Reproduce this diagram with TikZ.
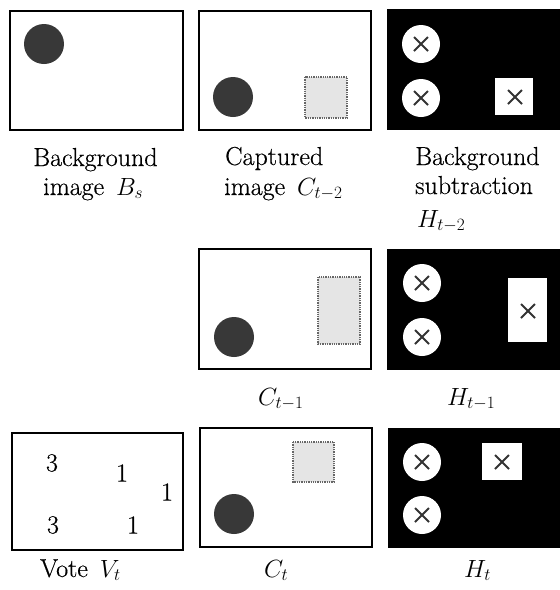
\documentclass[tikz,border=0pt]{standalone}
\usepackage{fontspec}
\setmainfont{Latin Modern Roman}[FakeBold=0.4]
\begin{document}
\begin{tikzpicture}[x=1pt,y=-1pt,
  frame/.style={draw=black, line width=1.2pt, fill=white},
  blackpanel/.style={fill=black},
  darkdisk/.style={fill=black!78},
  lightbox/.style={fill=black!10, draw=black!60, densely dotted, line width=1.3pt},
  whitedisk/.style={fill=white},
  xmark/.style={draw=black!80, line width=2pt},
  lbl/.style={anchor=base west, inner sep=0pt, font=\fontsize{26}{30}\selectfont},
  num/.style={anchor=center, inner sep=0pt, font=\fontsize{26}{30}\selectfont}]
\useasboundingbox (0,0) rectangle (560,590);
\newcommand\crossmark[1]{\draw[xmark] (#1) ++(-7,-7) -- ++(14,14) (#1) ++(-7,7) -- ++(14,-14);}
% ---- Row 1 ----
% Background image B_s
\draw[frame] (10,11) rectangle (183,130);
\fill[darkdisk] (44,44) circle[radius=20pt];
% Captured image C_{t-2}
\draw[frame] (199,11) rectangle (371,130);
\fill[darkdisk] (233,97) circle[radius=20pt];
\draw[lightbox] (305,77) rectangle (347,118);
% Background subtraction H_{t-2}
\fill[blackpanel] (387,9) rectangle (560,130);
\fill[whitedisk] (421,44) circle[radius=19pt];
\fill[whitedisk] (421,98) circle[radius=19pt];
\fill[white] (495,78) rectangle (533,115);
\crossmark{421,44}
\crossmark{421,98}
\crossmark{515,97}
% ---- Row 2 ----
\draw[frame] (199,249) rectangle (371,369);
\fill[darkdisk] (234,337) circle[radius=20pt];
\draw[lightbox] (318,277) rectangle (360,344);
\fill[blackpanel] (387,249) rectangle (560,370);
\fill[whitedisk] (422,283) circle[radius=19pt];
\fill[whitedisk] (422,337) circle[radius=19pt];
\fill[white] (508,278) rectangle (547,342);
\crossmark{422,283}
\crossmark{422,337}
\crossmark{528,311}
% ---- Row 3 ----
\draw[frame] (12,433) rectangle (183,550);
\node[num] (n1) at (52,463) {3};
\node[num] (n2) at (122,473) {1};
\node[num] (n3) at (167,492) {1};
\node[num] (n4) at (53,525) {3};
\node[num] (n5) at (133,525) {1};
\draw[frame] (200,428) rectangle (372,547);
\fill[darkdisk] (234,514) circle[radius=20pt];
\draw[lightbox] (293,442) rectangle (334,482);
\fill[blackpanel] (388,428) rectangle (560,548);
\fill[whitedisk] (422,462) circle[radius=19pt];
\fill[whitedisk] (422,515) circle[radius=19pt];
\fill[white] (482,443) rectangle (522,480);
\crossmark{422,462}
\crossmark{422,515}
\crossmark{502,462}
% ---- Labels ----
\node[lbl] (l1a) at (33,166) {Background};
\node[lbl] (l1b) at (43,195) {image\hspace{12pt}$B_s$};
\node[lbl] (l2a) at (225,165) {Captured};
\node[lbl] (l2b) at (224,195) {image\hspace{12pt}$C_{t-2}$};
\node[lbl] (l3a) at (415,165) {Background};
\node[lbl] (l3b) at (415,194) {subtraction};
\node[lbl] (l3c) at (417,227) {$H_{t-2}$};
\node[lbl] (l5) at (258,405) {$C_{t-1}$};
\node[lbl] (l6) at (447,405) {$H_{t-1}$};
\node[lbl] (l7) at (40,577) {Vote\hspace{12pt}$V_t$};
\node[lbl] (l8) at (264,577) {$C_t$};
\node[lbl] (l9) at (464,577) {$H_t$};
\end{tikzpicture}
\end{document}
